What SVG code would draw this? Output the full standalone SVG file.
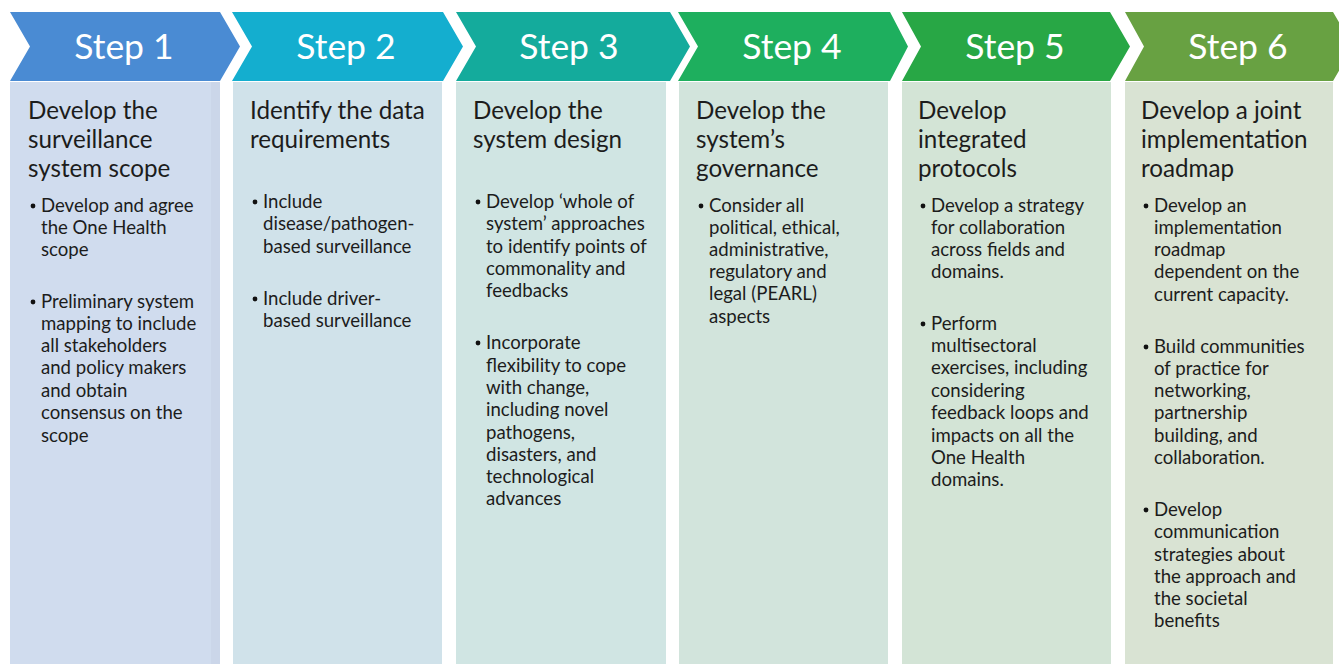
<svg xmlns="http://www.w3.org/2000/svg" width="1339" height="664" viewBox="0 0 1339 664">
<style>
.step{font-family:Lato,"Open Sans","Liberation Sans",sans-serif;font-size:35.5px;fill:#ffffff;text-anchor:middle}
.title{font-family:Lato,"Open Sans","Liberation Sans",sans-serif;font-size:24.2px;fill:#1c1c1c}
.body{font-family:Lato,"Open Sans","Liberation Sans",sans-serif;font-size:18.6px;fill:#1c1c1c}
.dot{fill:#111111}
</style>
<rect width="1339" height="664" fill="#ffffff"/>
<g id="step1">
<rect x="10" y="82" width="210" height="582" fill="#d0dcee"/>
<rect x="211" y="82" width="9" height="582" fill="#cbd6e9"/>
<polygon points="10,12 220,12 240,46.5 220,81 10,81 30,46.5" fill="#4a8bd3"/>
<text class="step" x="124" y="59">Step 1</text>
<text class="title"><tspan x="28" y="119">Develop the</tspan><tspan x="28" y="148">surveillance</tspan><tspan x="28" y="177">system scope</tspan></text>
<circle class="dot" cx="33" cy="206" r="2.4"/>
<text class="body"><tspan x="41" y="212">Develop and agree</tspan><tspan x="41" y="234">the One Health</tspan><tspan x="41" y="256">scope</tspan></text>
<circle class="dot" cx="33" cy="302" r="2.4"/>
<text class="body"><tspan x="41" y="308">Preliminary system</tspan><tspan x="41" y="330">mapping to include</tspan><tspan x="41" y="352">all stakeholders</tspan><tspan x="41" y="374">and policy makers</tspan><tspan x="41" y="397">and obtain</tspan><tspan x="41" y="419">consensus on the</tspan><tspan x="41" y="442">scope</tspan></text>
</g>
<g id="step2">
<rect x="233" y="82" width="209" height="582" fill="#d0e2ea"/>
<polygon points="232,12 443,12 463,46.5 443,81 232,81 252,46.5" fill="#14aecf"/>
<text class="step" x="346" y="59">Step 2</text>
<text class="title"><tspan x="250" y="119">Identify the data</tspan><tspan x="250" y="148">requirements</tspan></text>
<circle class="dot" cx="255" cy="202" r="2.4"/>
<text class="body"><tspan x="263" y="208">Include</tspan><tspan x="263" y="230">disease/pathogen-</tspan><tspan x="263" y="253">based surveillance</tspan></text>
<circle class="dot" cx="255" cy="299" r="2.4"/>
<text class="body"><tspan x="263" y="305">Include driver-</tspan><tspan x="263" y="327">based surveillance</tspan></text>
</g>
<g id="step3">
<rect x="456" y="82" width="210" height="582" fill="#d0e5e3"/>
<polygon points="456,12 670,12 690,46.5 670,81 456,81 476,46.5" fill="#14ab9c"/>
<text class="step" x="569" y="59">Step 3</text>
<text class="title"><tspan x="473" y="119">Develop the</tspan><tspan x="473" y="148">system design</tspan></text>
<circle class="dot" cx="478" cy="202" r="2.4"/>
<text class="body"><tspan x="486" y="208">Develop ‘whole of</tspan><tspan x="486" y="230">system’ approaches</tspan><tspan x="486" y="253">to identify points of</tspan><tspan x="486" y="275">commonality and</tspan><tspan x="486" y="297">feedbacks</tspan></text>
<circle class="dot" cx="478" cy="343" r="2.4"/>
<text class="body"><tspan x="486" y="349">Incorporate</tspan><tspan x="486" y="372">flexibility to cope</tspan><tspan x="486" y="394">with change,</tspan><tspan x="486" y="416">including novel</tspan><tspan x="486" y="439">pathogens,</tspan><tspan x="486" y="461">disasters, and</tspan><tspan x="486" y="483">technological</tspan><tspan x="486" y="505">advances</tspan></text>
</g>
<g id="step4">
<rect x="679" y="82" width="209" height="582" fill="#d2e4dc"/>
<polygon points="678,12 890,12 908,46.5 890,81 678,81 698,46.5" fill="#1eaf5e"/>
<text class="step" x="792" y="59">Step 4</text>
<text class="title"><tspan x="696" y="119">Develop the</tspan><tspan x="696" y="148">system’s</tspan><tspan x="696" y="177">governance</tspan></text>
<circle class="dot" cx="701" cy="206" r="2.4"/>
<text class="body"><tspan x="709" y="212">Consider all</tspan><tspan x="709" y="234">political, ethical,</tspan><tspan x="709" y="256">administrative,</tspan><tspan x="709" y="278">regulatory and</tspan><tspan x="709" y="300">legal (PEARL)</tspan><tspan x="709" y="323">aspects</tspan></text>
</g>
<g id="step5">
<rect x="902" y="82" width="209" height="582" fill="#d3e4d6"/>
<polygon points="902,12 1110,12 1130,46.5 1110,81 902,81 921,46.5" fill="#28a745"/>
<text class="step" x="1015" y="59">Step 5</text>
<text class="title"><tspan x="918" y="119">Develop</tspan><tspan x="918" y="148">integrated</tspan><tspan x="918" y="177">protocols</tspan></text>
<circle class="dot" cx="923" cy="206" r="2.4"/>
<text class="body"><tspan x="931" y="212">Develop a strategy</tspan><tspan x="931" y="234">for collaboration</tspan><tspan x="931" y="256">across fields and</tspan><tspan x="931" y="278">domains.</tspan></text>
<circle class="dot" cx="923" cy="324" r="2.4"/>
<text class="body"><tspan x="931" y="330">Perform</tspan><tspan x="931" y="352">multisectoral</tspan><tspan x="931" y="374">exercises, including</tspan><tspan x="931" y="397">considering</tspan><tspan x="931" y="419">feedback loops and</tspan><tspan x="931" y="442">impacts on all the</tspan><tspan x="931" y="464">One Health</tspan><tspan x="931" y="486">domains.</tspan></text>
</g>
<g id="step6">
<rect x="1125" y="82" width="208" height="582" fill="#d9e3d3"/>
<polygon points="1125,12 1333,12 1353,46.5 1333,81 1125,81 1144,46.5" fill="#68a142"/>
<text class="step" x="1238" y="59">Step 6</text>
<text class="title"><tspan x="1141" y="119">Develop a joint</tspan><tspan x="1141" y="148">implementation</tspan><tspan x="1141" y="177">roadmap</tspan></text>
<circle class="dot" cx="1146" cy="206" r="2.4"/>
<text class="body"><tspan x="1154" y="212">Develop an</tspan><tspan x="1154" y="234">implementation</tspan><tspan x="1154" y="256">roadmap</tspan><tspan x="1154" y="278">dependent on the</tspan><tspan x="1154" y="301">current capacity.</tspan></text>
<circle class="dot" cx="1146" cy="347" r="2.4"/>
<text class="body"><tspan x="1154" y="353">Build communities</tspan><tspan x="1154" y="375">of practice for</tspan><tspan x="1154" y="397">networking,</tspan><tspan x="1154" y="419">partnership</tspan><tspan x="1154" y="442">building, and</tspan><tspan x="1154" y="464">collaboration.</tspan></text>
<circle class="dot" cx="1146" cy="510" r="2.4"/>
<text class="body"><tspan x="1154" y="516">Develop</tspan><tspan x="1154" y="538">communication</tspan><tspan x="1154" y="561">strategies about</tspan><tspan x="1154" y="583">the approach and</tspan><tspan x="1154" y="605">the societal</tspan><tspan x="1154" y="627">benefits</tspan></text>
</g>
<g id="connectors"></g>
</svg>
